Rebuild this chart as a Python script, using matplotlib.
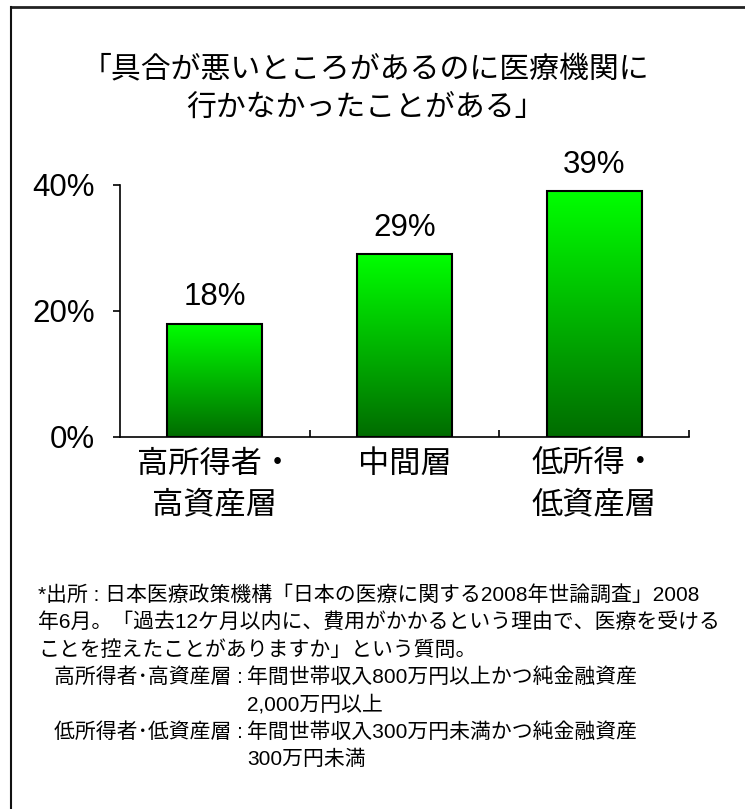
import matplotlib
matplotlib.use("Agg")
import matplotlib.pyplot as plt
import numpy as np
from matplotlib.colors import LinearSegmentedColormap

plt.rcParams['font.family'] = ['Liberation Sans', 'Noto Sans CJK JP']

# data
categories = ["高所得者・\n高資産層", "中間層", "低所得・\n低資産層"]
values = [18, 29, 39]
yticks = [0, 20, 40]
title = "「具合が悪いところがあるのに医療機関に\n行かなかったことがある」"
notes = [
    "*出所 : 日本医療政策機構「日本の医療に関する2008年世論調査」2008",
    "年6月。「過去12ケ月以内に、費用がかかるという理由で、医療を受ける",
    "ことを控えたことがありますか」という質問。",
]
defs = [
    ("高所得者･高資産層 : ", ["年間世帯収入800万円以上かつ純金融資産", "2,000万円以上"]),
    ("低所得者･低資産層 : ", ["年間世帯収入300万円未満かつ純金融資産", "300万円未満"]),
]

W, H = 745, 809
fig = plt.figure(figsize=(W / 100, H / 100), dpi=100)

# frame around the figure
fig.add_artist(plt.Line2D([11 / W, 1], [1 - 7 / H, 1 - 7 / H], color="#222222", lw=2))
fig.add_artist(plt.Line2D([11 / W, 11 / W], [0, 1 - 7 / H], color="#111111", lw=1.5))

fig.text(365 / W, 1 - 89 / H, title, ha="center", va="center", fontsize=21.5,
         linespacing=1.45)

ax = fig.add_axes([120 / W, 1 - 437 / H, (689 - 120) / W, (437 - 185) / H])
x = np.arange(len(values))
width = 0.5
cmap = LinearSegmentedColormap.from_list("g", ["#006c00", "#00ff00"])
grad = np.linspace(0, 1, 256).reshape(-1, 1)
for xi, v in zip(x, values):
    ax.imshow(grad, extent=(xi - width / 2, xi + width / 2, 0, v), origin="lower",
              cmap=cmap, aspect="auto", zorder=2)
ax.bar(x, values, width=width, facecolor="none", edgecolor="black", lw=1.5, zorder=3)

for xi, v in zip(x, values):
    ax.annotate(f"{v}%", (xi, v), xytext=(0, 19), textcoords="offset points",
                ha="center", va="center", fontsize=22.5)

ax.set_xlim(-0.5, 2.5)
ax.set_ylim(0, 40)
ax.set_yticks(yticks)
ax.set_yticklabels([f"{t}%" for t in yticks], fontsize=22.5)
ax.tick_params(axis="y", direction="out", length=5, width=1.2, pad=13)
ax.set_xticks([0.5, 1.5, 2.5])
ax.set_xticklabels([])
ax.tick_params(axis="x", direction="in", length=5, width=1.2)
for s in ["top", "right"]:
    ax.spines[s].set_visible(False)
for s in ["left", "bottom"]:
    ax.spines[s].set_linewidth(1.2)

for xi, c in zip(x, categories):
    ax.text(xi, -0.05, c, transform=ax.get_xaxis_transform(), ha="center", va="top",
            fontsize=22.5, linespacing=1.45)

# footnotes
fs = 15
ys = [595, 622, 650]
for y, t in zip(ys, notes):
    fig.text(38 / W, 1 - y / H, t, ha="left", va="center", fontsize=fs)
y = 677
for label, lines in defs:
    fig.text(249 / W, 1 - y / H, label, ha="right", va="center", fontsize=fs)
    for ln in lines:
        fig.text(247 / W, 1 - y / H, ln, ha="left", va="center", fontsize=fs)
        y += 27.5

fig.savefig("out.png", dpi=100)
